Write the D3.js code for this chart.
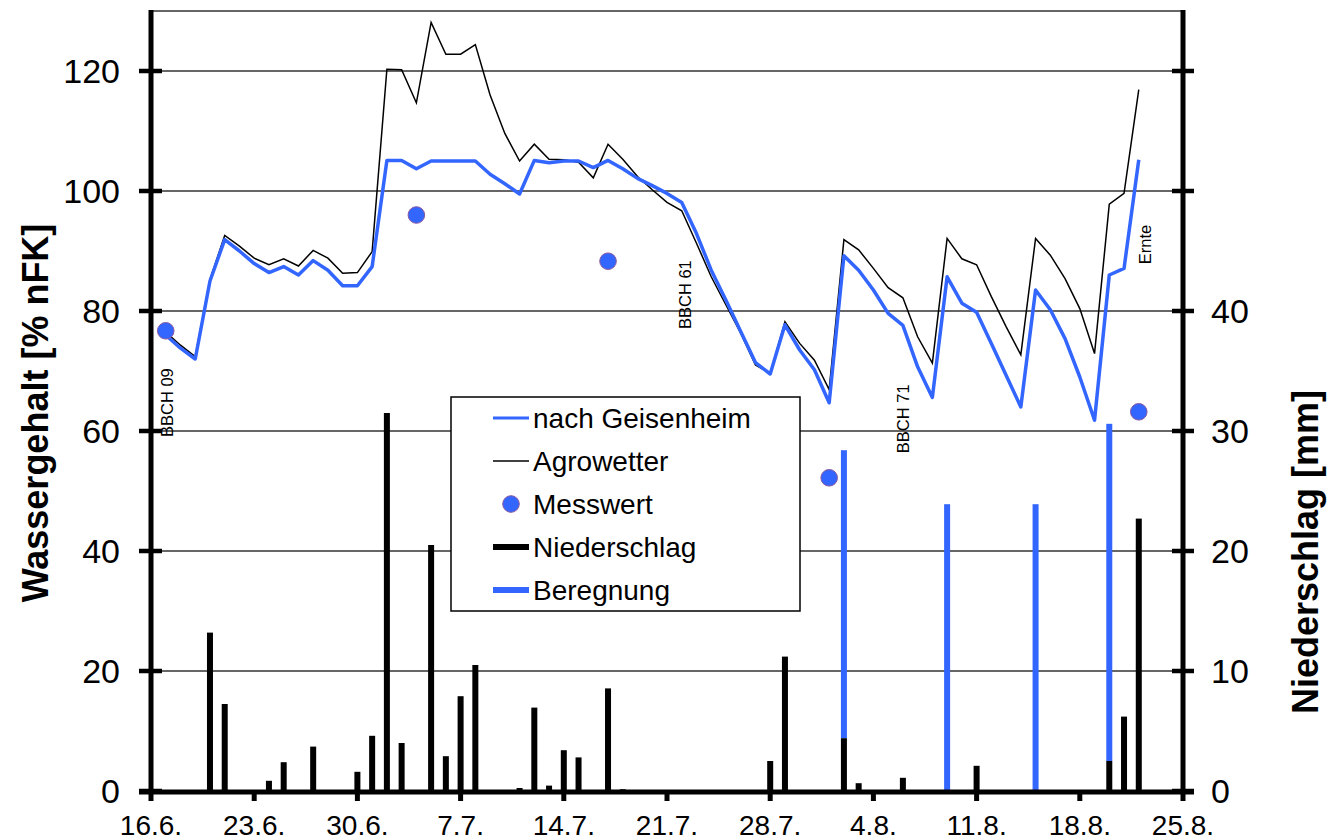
<!DOCTYPE html>
<html>
<head>
<meta charset="utf-8">
<script src="https://cdn.jsdelivr.net/npm/d3@7"></script>
<style>
  html, body { margin: 0; padding: 0; background: #fff; }
  svg { display: block; }
  text { font-family: Arial, "Liberation Sans", sans-serif; fill: #000; }
</style>
</head>
<body>
<svg id="chart" width="1336" height="840"></svg>
<script>
// ---- data ------------------------------------------------------------
const tickLabels = ["16.6.", "23.6.", "30.6.", "7.7.", "14.7.", "21.7.", "28.7.", "4.8.", "11.8.", "18.8.", "25.8."];
const leftTicks = [0, 20, 40, 60, 80, 100, 120];
const rightTicks = [0, 10, 20, 30, 40, 50, 60];
const rightTickLabels = ["0", "10", "20", "30", "40", "", ""];

// daily water content, first value on 17.6.
const seriesStart = "17.6.";
const geisenheim = [
  76.0, 73.8, 72.0, 85.0, 91.9, 90.0, 87.9, 86.4, 87.4, 86.0,
  88.4, 86.8, 84.2, 84.2, 87.4, 105.1, 105.1, 103.7, 105.0, 105.0,
  105.0, 105.0, 102.8, 101.2, 99.5, 105.1, 104.7, 105.0, 105.0, 103.9,
  105.1, 103.7, 102.1, 100.9, 99.6, 98.1, 92.9, 86.8, 81.8, 76.6,
  71.4, 69.5, 77.7, 73.5, 70.2, 64.7, 89.2, 86.8, 83.5, 79.6,
  77.6, 70.7, 65.6, 85.7, 81.3, 79.8, 74.6, 69.3, 64.0, 83.5,
  80.2, 75.4, 69.0, 61.8, 86.0, 87.1, 105.2
];
const agrowetter = [
  76.5, 74.3, 72.4, 85.2, 92.6, 90.8, 88.8, 87.7, 88.7, 87.5,
  90.1, 88.8, 86.3, 86.4, 89.9, 120.3, 120.2, 114.7, 128.1, 122.8,
  122.8, 124.4, 116.0, 109.6, 105.0, 107.8, 105.3, 105.2, 104.8, 102.2,
  107.8, 105.3, 102.4, 100.2, 98.1, 96.7, 91.3, 85.7, 81.0, 76.3,
  71.0, 69.6, 78.2, 74.6, 71.8, 66.9, 91.9, 90.2, 87.1, 83.9,
  82.2, 75.7, 71.3, 92.1, 88.7, 87.7, 82.4, 77.4, 72.7, 92.1,
  89.3, 85.4, 80.4, 72.9, 97.8, 99.6, 116.9
];

const messDates = ["17.6.", "4.7.", "17.7.", "1.8.", "22.8."];
const messValues = [76.7, 96.0, 88.3, 52.2, 63.2];

const precipDates = ["20.6.", "21.6.", "24.6.", "25.6.", "27.6.", "30.6.", "1.7.", "2.7.", "3.7.", "5.7.",
  "6.7.", "7.7.", "8.7.", "11.7.", "12.7.", "13.7.", "14.7.", "15.7.", "17.7.", "18.7.",
  "28.7.", "29.7.", "2.8.", "3.8.", "6.8.", "11.8.", "20.8.", "21.8.", "22.8."];
const precipMm = [13.2, 7.25, 0.85, 2.4, 3.7, 1.6, 4.6, 31.5, 4.0, 20.5,
  2.9, 7.9, 10.5, 0.25, 6.95, 0.45, 3.4, 2.8, 8.55, 0.15,
  2.5, 11.2, 4.4, 0.65, 1.1, 2.1, 2.5, 6.2, 22.7];

const irrigDates = ["2.8.", "9.8.", "15.8.", "20.8."];
const irrigMm = [24.0, 23.9, 23.9, 28.1];

const stageLabels = ["BBCH 09", "BBCH 61", "BBCH 71", "Ernte"];
const stageDates = ["17.6.", "22.7.", "6.8.", "22.8."];
const stageAt = [59, 77, 56.3, 87.8];

const legendNames = ["nach Geisenheim", "Agrowetter", "Messwert", "Niederschlag", "Beregnung"];

// ---- setup -----------------------------------------------------------
const year = 2009;
const parseDay = s => d3.timeParse("%d.%m.%Y")(s + year);
const blue = "#3366ff";

const svg = d3.select("#chart");
const m = { left: 151, right: 1183, top: 11, bottom: 791 };

const x = d3.scaleTime()
  .domain([parseDay(tickLabels[0]), parseDay(tickLabels[tickLabels.length - 1])])
  .range([m.left, m.right]);
const yL = d3.scaleLinear().domain([0, 130]).range([m.bottom, m.top]);
const yR = d3.scaleLinear().domain([0, 65]).range([m.bottom, m.top]);

const start = parseDay(seriesStart);
const dayOf = i => d3.timeDay.offset(start, i);

// ---- grid ------------------------------------------------------------
svg.append("g")
  .selectAll("line")
  .data(leftTicks.slice(1).concat([130]))
  .join("line")
  .attr("x1", m.left).attr("x2", m.right)
  .attr("y1", d => yL(d)).attr("y2", d => yL(d))
  .attr("stroke", "#333").attr("stroke-width", 1.3);

// ---- bars: precipitation with irrigation stacked on top ---------------
const barW = 6;
const precipByDay = new Map(precipDates.map((d, i) => [d, precipMm[i]]));

svg.append("g")
  .selectAll("rect")
  .data(irrigDates.map((d, i) => ({ d, base: precipByDay.get(d) || 0, v: irrigMm[i] })))
  .join("rect")
  .attr("x", d => x(parseDay(d.d)) - barW / 2)
  .attr("width", barW)
  .attr("y", d => yR(d.base + d.v))
  .attr("height", d => yR(d.base) - yR(d.base + d.v))
  .attr("fill", blue);

svg.append("g")
  .selectAll("rect")
  .data(precipDates.map((d, i) => ({ d, v: precipMm[i] })))
  .join("rect")
  .attr("x", d => x(parseDay(d.d)) - barW / 2)
  .attr("width", barW)
  .attr("y", d => yR(d.v))
  .attr("height", d => yR(0) - yR(d.v))
  .attr("fill", "#000");

// ---- lines -----------------------------------------------------------
const line = d3.line().x((d, i) => x(dayOf(i))).y(d => yL(d));

svg.append("path").datum(agrowetter)
  .attr("d", line).attr("fill", "none")
  .attr("stroke", "#000").attr("stroke-width", 1.5).attr("stroke-linejoin", "miter");

svg.append("path").datum(geisenheim)
  .attr("d", line).attr("fill", "none")
  .attr("stroke", blue).attr("stroke-width", 3.5).attr("stroke-linejoin", "round");

// measured values
svg.append("g")
  .selectAll("circle")
  .data(messDates.map((d, i) => ({ d, v: messValues[i] })))
  .join("circle")
  .attr("cx", d => x(parseDay(d.d)))
  .attr("cy", d => yL(d.v))
  .attr("r", 8.3)
  .attr("fill", blue)
  .attr("stroke", "#8a5aa0").attr("stroke-width", 1);

// ---- growth stage notes ----------------------------------------------
const stageShift = [1, 3, 0, 6];
svg.append("g")
  .selectAll("text")
  .data(stageLabels.map((t, i) => ({ t, d: stageDates[i], at: stageAt[i], dx: stageShift[i] })))
  .join("text")
  .attr("transform", d => `translate(${x(parseDay(d.d)) + d.dx},${yL(d.at)}) rotate(-90)`)
  .attr("dominant-baseline", "central")
  .attr("font-size", 16.5)
  .text(d => d.t);

// ---- axes ------------------------------------------------------------
const axisG = svg.append("g");

// left axis
axisG.append("line")
  .attr("x1", m.left).attr("x2", m.left).attr("y1", m.top - 1).attr("y2", m.bottom + 2)
  .attr("stroke", "#000").attr("stroke-width", 5);
axisG.append("g").selectAll("line").data(leftTicks).join("line")
  .attr("x1", m.left - 12).attr("x2", m.left + 11)
  .attr("y1", d => yL(d)).attr("y2", d => yL(d))
  .attr("stroke", "#000").attr("stroke-width", 4.5);
axisG.append("g").selectAll("text").data(leftTicks).join("text")
  .attr("x", m.left - 31).attr("y", d => yL(d))
  .attr("text-anchor", "end").attr("dominant-baseline", "central")
  .attr("font-size", 34)
  .text(d => d);

// right axis
axisG.append("line")
  .attr("x1", m.right).attr("x2", m.right).attr("y1", m.top - 1).attr("y2", m.bottom + 2)
  .attr("stroke", "#000").attr("stroke-width", 5);
axisG.append("g").selectAll("line").data(rightTicks).join("line")
  .attr("x1", m.right - 11).attr("x2", m.right + 11)
  .attr("y1", d => yR(d)).attr("y2", d => yR(d))
  .attr("stroke", "#000").attr("stroke-width", 4.5);
axisG.append("g").selectAll("text").data(rightTicks).join("text")
  .attr("x", m.right + 28).attr("y", d => yR(d))
  .attr("text-anchor", "start").attr("dominant-baseline", "central")
  .attr("font-size", 34)
  .text((d, i) => rightTickLabels[i]);

// bottom axis
axisG.append("line")
  .attr("x1", m.left - 12).attr("x2", m.right + 11).attr("y1", m.bottom + 1).attr("y2", m.bottom + 1)
  .attr("stroke", "#000").attr("stroke-width", 5);
axisG.append("g").selectAll("line").data(tickLabels).join("line")
  .attr("x1", d => x(parseDay(d))).attr("x2", d => x(parseDay(d)))
  .attr("y1", m.bottom).attr("y2", m.bottom + 10)
  .attr("stroke", "#000").attr("stroke-width", 5);
axisG.append("g").selectAll("text").data(tickLabels).join("text")
  .attr("x", d => x(parseDay(d))).attr("y", 835)
  .attr("text-anchor", "middle")
  .attr("font-size", 28)
  .text(d => d);

// axis titles
svg.append("text")
  .attr("transform", "translate(35,413) rotate(-90)")
  .attr("text-anchor", "middle").attr("dominant-baseline", "central")
  .attr("font-size", 36).attr("font-weight", "bold")
  .text("Wassergehalt [% nFK]");
svg.append("text")
  .attr("transform", "translate(1305,552) rotate(-90)")
  .attr("text-anchor", "middle").attr("dominant-baseline", "central")
  .attr("font-size", 36).attr("font-weight", "bold")
  .text("Niederschlag [mm]");

// ---- legend ----------------------------------------------------------
const lg = svg.append("g");
lg.append("rect")
  .attr("x", 451).attr("y", 397).attr("width", 349).attr("height", 214)
  .attr("fill", "#fff").attr("stroke", "#000").attr("stroke-width", 1.5);

const rowY = i => 418 + i * 43;
const sym = [
  g => g.append("line").attr("x1", 493).attr("x2", 529).attr("stroke", blue).attr("stroke-width", 3),
  g => g.append("line").attr("x1", 493).attr("x2", 529).attr("stroke", "#000").attr("stroke-width", 1.5),
  g => g.append("circle").attr("cx", 511).attr("r", 8.3).attr("fill", blue).attr("stroke", "#8a5aa0").attr("stroke-width", 1),
  g => g.append("line").attr("x1", 493).attr("x2", 529).attr("stroke", "#000").attr("stroke-width", 6),
  g => g.append("line").attr("x1", 493).attr("x2", 529).attr("stroke", blue).attr("stroke-width", 6)
];
legendNames.forEach((name, i) => {
  const row = lg.append("g").attr("transform", `translate(0,${rowY(i)})`);
  sym[i](row);
  row.append("text")
    .attr("x", 533).attr("y", 0)
    .attr("dominant-baseline", "central")
    .attr("font-size", 28)
    .text(name);
});
</script>
</body>
</html>
